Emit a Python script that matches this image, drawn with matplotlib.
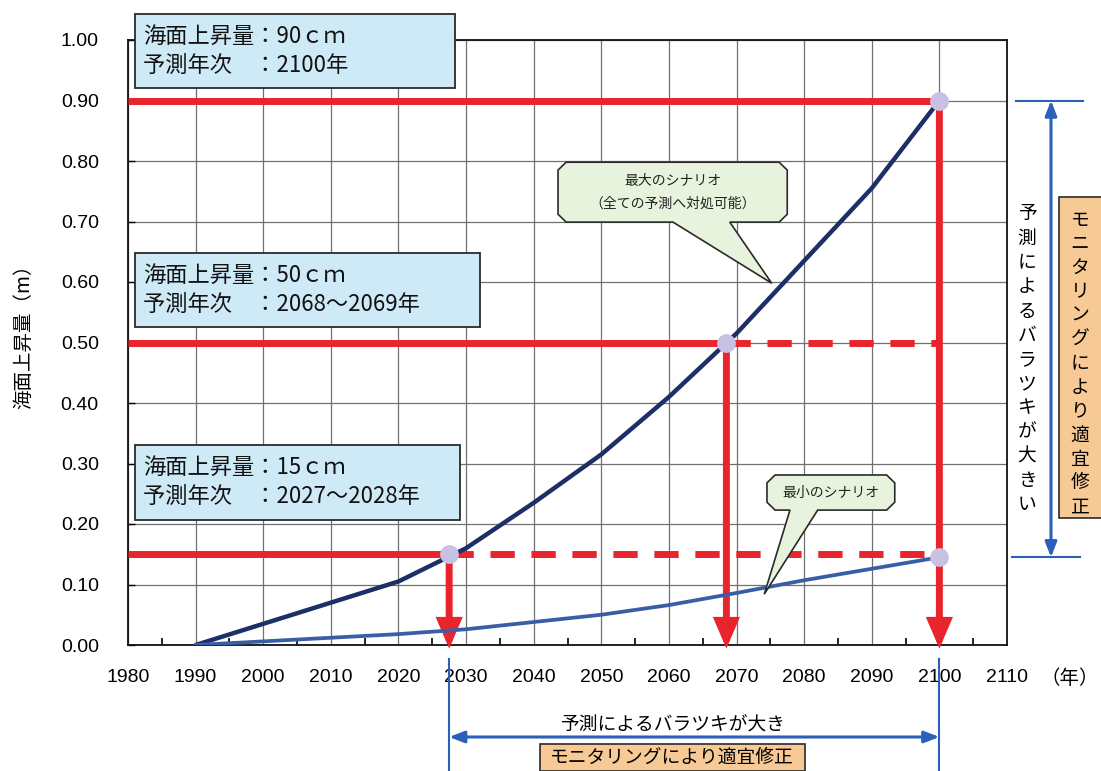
import numpy as np
import matplotlib
matplotlib.use("Agg")
import matplotlib.pyplot as plt
from matplotlib.patches import Polygon, Rectangle
from matplotlib.transforms import blended_transform_factory

plt.rcParams["font.family"] = ["Noto Sans CJK JP", "DejaVu Sans"]

# ── Data ───────────────────────────────────────────────────────────────────
YEARS      = [1990, 2000, 2010, 2020, 2030, 2040, 2050, 2060, 2070, 2080, 2090, 2100]
RISE_MAX   = [0.0, 0.035, 0.07, 0.105, 0.16, 0.235, 0.315, 0.41, 0.515, 0.635, 0.755, 0.90]
RISE_MIN   = [0.0, 0.006, 0.012, 0.018, 0.026, 0.038, 0.05, 0.066, 0.086, 0.107, 0.126, 0.145]

# (rise [m], year reached on the max scenario)
TARGETS    = [(0.90, 2100.0), (0.50, 2068.5), (0.15, 2027.5)]
MIN_END    = (2100.0, 0.145)

BOX_TEXT = [
    ("海面上昇量：90ｃｍ", "予測年次　：2100年"),
    ("海面上昇量：50ｃｍ", "予測年次　：2068～2069年"),
    ("海面上昇量：15ｃｍ", "予測年次　：2027～2028年"),
]
X_TICKS = list(range(1980, 2111, 10))
Y_TICKS = [round(0.1 * i, 1) for i in range(11)]

# ── Style ──────────────────────────────────────────────────────────────────
RED     = "#e8242c"
NAVY    = "#1c2f66"
STEEL   = "#3a5ea6"
DOT     = "#c9c1e3"
BLUE    = "#2b5fb8"
SKY     = "#cfeaf7"
MINT    = "#e7f3dc"
ORANGE  = "#f6c995"
GRID    = "#707070"
EDGE    = "#2a2a2a"

W, H = 1101, 771
fig = plt.figure(figsize=(W / 100, H / 100), dpi=100)
ax = fig.add_axes([128 / W, 1 - 645 / H, (1007 - 128) / W, (645 - 40) / H])


def fx(px):
    return px / W


def fy(py):
    return 1 - py / H


ax.set_xlim(1980, 2110)
ax.set_ylim(0, 1.0)
ax.set_xticks(X_TICKS)
ax.set_xticks(np.arange(1985, 2110, 10), minor=True)
ax.set_yticks(Y_TICKS)
ax.set_xticklabels([str(y) for y in X_TICKS], family="Liberation Sans", fontsize=14)
ax.set_yticklabels([f"{v:.2f}" for v in Y_TICKS], family="Liberation Sans", fontsize=14)
ax.tick_params(axis="x", which="major", direction="in", length=0, pad=17)
ax.tick_params(axis="x", which="minor", direction="in", length=5, width=1.2)
ax.tick_params(axis="y", direction="in", length=5, width=1.0, pad=21)
ax.grid(True, which="major", color=GRID, lw=0.9)
ax.set_axisbelow(True)
for sp in ax.spines.values():
    sp.set_linewidth(1.3)
    sp.set_color("#111111")

# ── Scenario curves ────────────────────────────────────────────────────────
ax.plot(YEARS, RISE_MAX, color=NAVY, lw=3.2, zorder=4, solid_capstyle="round")
ax.plot(YEARS, RISE_MIN, color=STEEL, lw=2.7, zorder=4, solid_capstyle="round")

# ── Red guide lines and arrows ─────────────────────────────────────────────
x_end = YEARS[-1]
for rise, yr in TARGETS:
    ax.plot([1980, yr], [rise, rise], color=RED, lw=5, zorder=3,
            solid_capstyle="butt", clip_on=False)
    if yr < x_end:
        ax.plot([yr, x_end], [rise, rise], color=RED, lw=5, zorder=3,
                ls=(0, (3.5, 2.4)), dash_capstyle="butt")
    ax.annotate("", xy=(yr, -0.006), xytext=(yr, rise),
                arrowprops=dict(arrowstyle="-|>,head_length=1.4,head_width=0.6",
                                color=RED, lw=5, shrinkA=0, shrinkB=0,
                                joinstyle="miter"),
                zorder=3, annotation_clip=False)

dots_x = [yr for _, yr in TARGETS] + [MIN_END[0]]
dots_y = [r for r, _ in TARGETS] + [MIN_END[1]]
ax.plot(dots_x, dots_y, "o", ms=13.5, color=DOT, mec="none", zorder=6, clip_on=False)

# ── Value boxes ────────────────────────────────────────────────────────────
BOX_Y = [(0.921, 1.043), (0.526, 0.648), (0.207, 0.331)]
BOX_X1 = [2028.4, 2032.1, 2029.1]
for (l1, l2), (yb, yt), x1 in zip(BOX_TEXT, BOX_Y, BOX_X1):
    ax.add_patch(Rectangle((1981.0, yb), x1 - 1981.0, yt - yb, fc=SKY, ec=EDGE,
                           lw=1.3, zorder=8, clip_on=False))
    step = (yt - yb) * 0.39
    yc = (yt + yb) / 2
    ax.text(1982.2, yc + step / 2, l1, fontsize=16, va="center", ha="left",
            zorder=9, color="#111111")
    ax.text(1982.2, yc - step / 2, l2, fontsize=16, va="center", ha="left",
            zorder=9, color="#111111")


# ── Speech-bubble callouts ─────────────────────────────────────────────────
def callout(x0, x1, y0, y1, base, tip, lines, cx=1.2, cy=0.013):
    verts = [(x0 + cx, y1), (x1 - cx, y1), (x1, y1 - cy), (x1, y0 + cy),
             (x1 - cx, y0), (base[1], y0), tip, (base[0], y0),
             (x0 + cx, y0), (x0, y0 + cy), (x0, y1 - cy)]
    ax.add_patch(Polygon(verts, closed=True, fc=MINT, ec=EDGE, lw=1.2, zorder=8))
    xm, ym = (x0 + x1) / 2, (y0 + y1) / 2
    n = len(lines)
    dy = 0.038
    for i, s in enumerate(lines):
        ax.text(xm, ym + dy * ((n - 1) / 2 - i), s, fontsize=10,
                ha="center", va="center", zorder=9, color="#222222")


callout(2043.6, 2077.5, 0.699, 0.798, (2060.6, 2069.0), (2075.2, 0.598),
        ["最大のシナリオ", "（全ての予測へ対処可能）"])
callout(2074.5, 2093.4, 0.223, 0.281, (2077.9, 2082.0), (2074.1, 0.084),
        ["最小のシナリオ"])

# ── Axis titles ────────────────────────────────────────────────────────────
fig.text(fx(24), fy(332), "海面上昇量（m）", rotation=90, fontsize=14,
         ha="center", va="center")
fig.text(fx(1070), fy(678), "（年）", fontsize=14, ha="center", va="center")

# ── Right-hand spread indicator ────────────────────────────────────────────
ty = blended_transform_factory(fig.transFigure, ax.transData)
hi, lo = TARGETS[0][0], MIN_END[1]
ax.plot([fx(1016), fx(1083)], [hi, hi], color=BLUE, lw=1.5, transform=ty, clip_on=False)
ax.plot([fx(1012), fx(1080)], [lo, lo], color=BLUE, lw=1.5, transform=ty, clip_on=False)
ax.annotate("", xy=(fx(1051), hi), xytext=(fx(1051), lo), xycoords=ty, textcoords=ty,
            arrowprops=dict(arrowstyle="<|-|>,head_length=0.9,head_width=0.35",
                            color=BLUE, lw=2.2, shrinkA=0, shrinkB=0),
            annotation_clip=False)

SPREAD = "予測によるバラツキが大きい"
FIX = "モニタリングにより適宜修正"
for i, ch in enumerate(SPREAD):
    fig.text(fx(1027), fy(214 + i * 24.25), ch, fontsize=13.5, ha="center", va="center")
fig.patches.append(Rectangle((fx(1059), fy(518)), fx(60), 321 / H, fc=ORANGE,
                             ec=EDGE, lw=1.2, transform=fig.transFigure, figure=fig))
for i, ch in enumerate(FIX):
    fig.text(fx(1080), fy(220 + i * 23.9), ch, fontsize=13.5, ha="center", va="center")

# ── Bottom spread indicator ────────────────────────────────────────────────
tx = blended_transform_factory(ax.transData, fig.transFigure)
x_lo, x_hi = TARGETS[2][1], x_end
for xv in (x_lo, x_hi):
    ax.plot([xv, xv], [fy(659), fy(771)], color=BLUE, lw=1.5, transform=tx, clip_on=False)
ax.annotate("", xy=(x_lo, fy(737)), xytext=(x_hi, fy(737)), xycoords=tx, textcoords=tx,
            arrowprops=dict(arrowstyle="<|-|>,head_length=0.9,head_width=0.35",
                            color=BLUE, lw=2.2, shrinkA=0, shrinkB=0),
            annotation_clip=False)
fig.text(fx(673), fy(725), "予測によるバラツキが大き", fontsize=13.5, ha="center", va="center")
fig.patches.append(Rectangle((fx(540), 0), fx(265), fy(744), fc=ORANGE, ec=EDGE,
                             lw=1.2, transform=fig.transFigure, figure=fig))
fig.text(fx(672), fy(757), FIX, fontsize=13.5, ha="center", va="center")

fig.savefig("out.png", dpi=100)
